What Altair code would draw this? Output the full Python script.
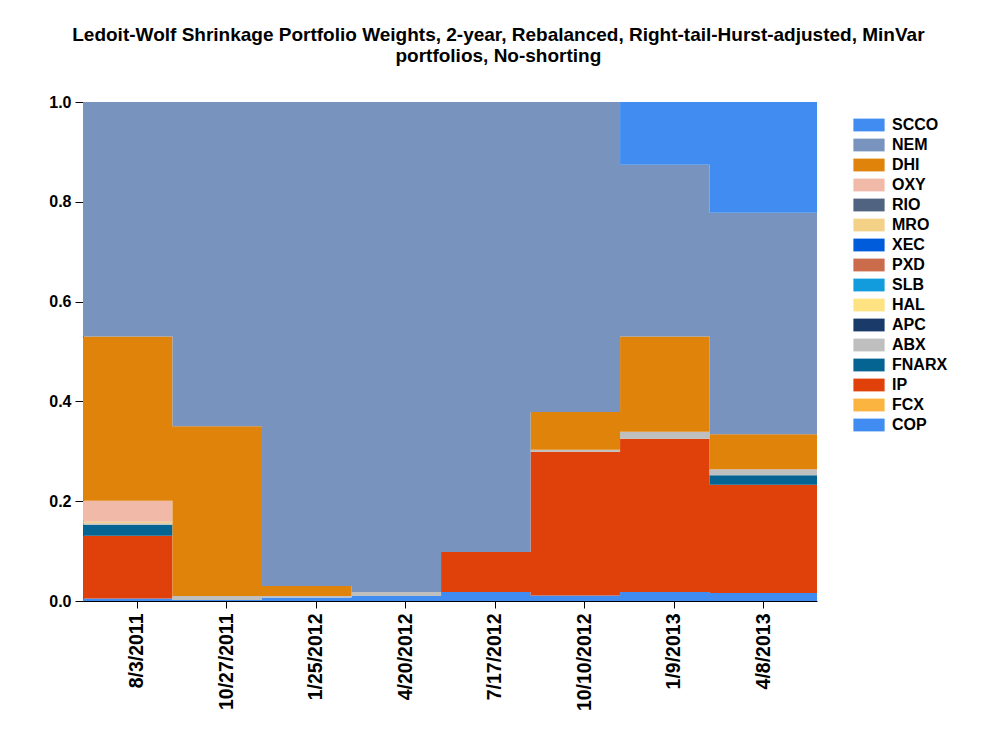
import altair as alt
import pandas as pd

dates = ["8/3/2011", "10/27/2011", "1/25/2012", "4/20/2012",
         "7/17/2012", "10/10/2012", "1/9/2013", "4/8/2013"]

# stack order, bottom -> top
tickers = ["COP", "FCX", "IP", "FNARX", "ABX", "APC", "HAL", "SLB",
           "PXD", "XEC", "MRO", "RIO", "OXY", "DHI", "NEM", "SCCO"]
colors = ["#418CF0", "#FCB441", "#E0400A", "#056492", "#BFBFBF", "#1A3B69",
          "#FFE382", "#129CDD", "#CA6B4B", "#005CDB", "#F3D288", "#506381",
          "#F1B9A8", "#E0830A", "#7893BE", "#418CF0"]

COP = [0.005, 0.002, 0.007, 0.010, 0.018, 0.011, 0.018, 0.016]
FCX = [0, 0, 0, 0, 0, 0, 0, 0]
IP = [0.126, 0, 0, 0, 0.080, 0.288, 0.307, 0.217]
FNARX = [0.022, 0, 0, 0, 0, 0, 0, 0.019]
ABX = [0.003, 0.008, 0.003, 0.008, 0, 0.004, 0.014, 0.012]
APC = [0, 0, 0, 0, 0, 0, 0, 0]
HAL = [0, 0, 0, 0, 0, 0, 0, 0]
SLB = [0, 0, 0, 0, 0, 0, 0, 0]
PXD = [0, 0, 0, 0, 0, 0, 0, 0]
XEC = [0, 0, 0, 0, 0, 0, 0, 0]
MRO = [0.003, 0, 0, 0, 0, 0, 0, 0]
RIO = [0, 0, 0, 0, 0, 0, 0, 0]
OXY = [0.042, 0, 0, 0, 0, 0, 0, 0]
DHI = [0.329, 0.340, 0.020, 0, 0, 0.076, 0.191, 0.070]
NEM = [0.470, 0.650, 0.970, 0.982, 0.902, 0.621, 0.344, 0.444]
SCCO = [0, 0, 0, 0, 0, 0, 0.126, 0.222]

series = {"COP": COP, "FCX": FCX, "IP": IP, "FNARX": FNARX, "ABX": ABX,
          "APC": APC, "HAL": HAL, "SLB": SLB, "PXD": PXD, "XEC": XEC,
          "MRO": MRO, "RIO": RIO, "OXY": OXY, "DHI": DHI, "NEM": NEM,
          "SCCO": SCCO}

rows = []
n = len(dates)
for rank, t in enumerate(tickers):
    vals = series[t]
    for i in range(n):
        rows.append({"ticker": t, "rank": rank, "x": i - 0.6, "w": vals[i]})
    # closing point so the last step extends to the right edge
    rows.append({"ticker": t, "rank": rank, "x": n - 0.4, "w": vals[-1]})
df = pd.DataFrame(rows)

legend_order = tickers[::-1]
color_range = colors[::-1]

label_expr = "[" + ",".join("'%s'" % d for d in dates) + "][datum.value]"

FONT = "Liberation Sans"

chart = alt.Chart(df).mark_area(interpolate="step-after").encode(
    x=alt.X("x:Q",
            scale=alt.Scale(domain=[-0.6, n - 0.4], nice=False, zero=False),
            axis=alt.Axis(values=list(range(n)), labelExpr=label_expr,
                          title=None, grid=False, labelAngle=270,
                          labelAlign="right", labelBaseline="middle",
                          labelFontSize=19.5, labelFontWeight="bold",
                          labelFont=FONT, labelColor="black",
                          labelPadding=5, tickSize=7, tickColor="black",
                          domainColor="black")),
    y=alt.Y("w:Q", stack="zero",
            scale=alt.Scale(domain=[0, 1], nice=False),
            axis=alt.Axis(values=[0, 0.2, 0.4, 0.6, 0.8, 1.0], format=".1f",
                          title=None, grid=False, labelFontSize=16,
                          labelFontWeight="bold", labelFont=FONT,
                          labelColor="black", labelPadding=4, tickSize=8,
                          tickColor="black", domainColor="black")),
    color=alt.Color("ticker:N",
                    scale=alt.Scale(domain=legend_order, range=color_range),
                    legend=alt.Legend(title=None, orient="none",
                                      legendX=778, legendY=15,
                                      symbolType="M-1.95,-0.8H1.95V0.8H-1.95Z",
                                      symbolSize=256, symbolStrokeWidth=0,
                                      symbolOpacity=1,
                                      labelFontSize=16, labelFontWeight="bold",
                                      labelFont=FONT, labelColor="black",
                                      labelOffset=15, rowPadding=4,
                                      padding=0)),
    order=alt.Order("rank:Q"),
).properties(
    width=734,
    height=499,
    padding={"left": 40, "top": 18, "right": 5, "bottom": 5},
    title=alt.TitleParams(
        ["Ledoit-Wolf Shrinkage Portfolio Weights, 2-year, Rebalanced, Right-tail-Hurst-adjusted, MinVar",
         "portfolios, No-shorting"],
        font=FONT, fontSize=19, fontWeight="bold", color="black",
        anchor="middle", frame="bounds", offset=28, lineHeight=21),
).configure_view(stroke=None)

chart.save("out.html", embed_options={"renderer": "svg", "actions": False})
